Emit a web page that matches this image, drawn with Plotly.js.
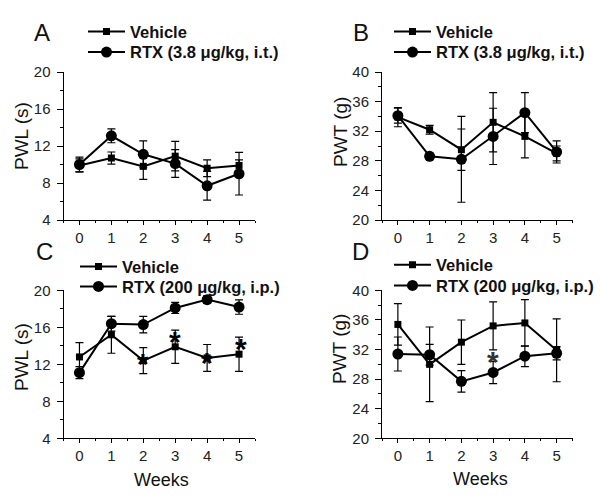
<!DOCTYPE html>
<html>
<head>
<meta charset="utf-8">
<script src="https://cdn.plot.ly/plotly-3.0.1.min.js"></script>
<style>html,body{margin:0;padding:0;background:#fff;}#chart{width:600px;height:499px;}</style>
</head>
<body>
<div id="chart"></div>
<script>
// ---- data ----
var weeks = [0, 1, 2, 3, 4, 5];
var weekTicks = ['0', '1', '2', '3', '4', '5'];

var seriesVehicle = 'Vehicle';
var seriesRtxIT = 'RTX (3.8 μg/kg, i.t.)';
var seriesRtxIP = 'RTX (200 μg/kg, i.p.)';

// Panel A: PWL (s), RTX i.t.
var aVehicle    = [9.9, 10.7, 9.8, 10.9, 9.6, 9.9];
var aVehicleErr = [0.7, 0.65, 1.4, 1.6, 0.9, 0.6];
var aRtx        = [10.0, 13.1, 11.1, 10.1, 7.7, 9.0];
var aRtxErr     = [0.8, 0.75, 1.45, 1.5, 1.55, 2.3];

// Panel B: PWT (g), RTX i.t.
var bVehicle    = [33.9, 32.2, 29.5, 33.2, 31.3, 29.0];
var bVehicleErr = [1.3, 0.6, 2.8, 4.0, 2.9, 1.0];
var bRtx        = [34.1, 28.6, 28.2, 31.3, 34.5, 29.2];
var bRtxErr     = [1.0, 0.4, 5.8, 3.8, 2.7, 1.5];

// Panel C: PWL (s), RTX i.p.
var cVehicle    = [12.8, 15.2, 12.4, 13.9, 12.7, 13.1];
var cVehicleErr = [1.55, 2.0, 1.4, 1.8, 1.45, 1.85];
var cRtx        = [11.1, 16.4, 16.3, 18.1, 19.0, 18.2];
var cRtxErr     = [0.65, 0.8, 0.9, 0.6, 0.4, 0.78];

// Panel D: PWT (g), RTX i.p.
var dVehicle    = [35.4, 30.0, 33.0, 35.2, 35.6, 31.9];
var dVehicleErr = [2.8, 5.05, 3.0, 3.25, 3.15, 4.25];
var dRtx        = [31.4, 31.3, 27.7, 28.9, 31.1, 31.5];
var dRtxErr     = [2.3, 1.4, 1.45, 1.5, 1.4, 0.9];

// significance marks (week, y value)
var cStarWeeks = [3, 5, 2, 4];
var cStarY     = [14.9, 14.1, 12.5, 12.65];
var dStarWeeks = [3];
var dStarY     = [30.9];

var panelLetters = ['A', 'B', 'C', 'D'];
var yTitles = ['PWL (s)', 'PWT (g)', 'PWL (s)', 'PWT (g)'];
var xTitle = 'Weeks';

// ---- build ----
var FONT = 'Liberation Sans, Arial, Helvetica, sans-serif';

function mk(y, err, name, symbol, size, ax, leg) {
  return {
    x: weeks, y: y, name: '<b>' + name + '</b>', type: 'scatter', mode: 'lines+markers',
    xaxis: 'x' + ax, yaxis: 'y' + ax, legend: leg,
    line: {color: 'black', width: 2},
    marker: {symbol: symbol, size: size, color: 'black'},
    error_y: {type: 'data', array: err, visible: true, color: 'black', thickness: 1.2, width: 4},
    cliponaxis: false
  };
}

var traces = [
  mk(aVehicle, aVehicleErr, seriesVehicle, 'square', 7, '', 'legend'),
  mk(aRtx, aRtxErr, seriesRtxIT, 'circle', 11, '', 'legend2'),
  mk(bVehicle, bVehicleErr, seriesVehicle, 'square', 7, '2', 'legend3'),
  mk(bRtx, bRtxErr, seriesRtxIT, 'circle', 11, '2', 'legend4'),
  mk(cVehicle, cVehicleErr, seriesVehicle, 'square', 7, '3', 'legend5'),
  mk(cRtx, cRtxErr, seriesRtxIP, 'circle', 11, '3', 'legend6'),
  mk(dVehicle, dVehicleErr, seriesVehicle, 'square', 7, '4', 'legend7'),
  mk(dRtx, dRtxErr, seriesRtxIP, 'circle', 11, '4', 'legend8')
];

var W = 600, H = 499;
var xLeft = [63.5 / W, 255 / W];
var xRight = [382 / W, 572.5 / W];
var yTop = [279 / H, 427 / H];
var yBot = [60.7 / H, 208.6 / H];

function xa(domain, anchor) {
  return {
    domain: domain, anchor: anchor, range: [-0.5, 5.5],
    tickvals: weeks, ticktext: weekTicks,
    ticks: 'outside', ticklen: 4, tickwidth: 1, tickcolor: 'black',
    minor: {dtick: 0.5, tick0: 0.5, ticks: 'outside', ticklen: 2, tickwidth: 1, tickcolor: 'black'},
    showline: true, linecolor: 'black', linewidth: 1,
    showgrid: false, zeroline: false, fixedrange: true,
    tickfont: {family: FONT, size: 15, color: '#222'},
    ticklabelstandoff: 0
  };
}
function ya(domain, anchor, range, dtick) {
  return {
    domain: domain, anchor: anchor, range: range, dtick: dtick, tick0: range[0],
    ticks: 'outside', ticklen: 6, tickwidth: 1, tickcolor: 'black',
    minor: {dtick: dtick / 2, ticks: 'outside', ticklen: 3, tickwidth: 1, tickcolor: 'black'},
    showline: true, linecolor: 'black', linewidth: 1,
    showgrid: false, zeroline: false, fixedrange: true,
    tickfont: {family: FONT, size: 15, color: '#222'},
    ticklabelstandoff: 3
  };
}
function leg(xpx, ypx) {
  return {
    x: xpx / W, xanchor: 'left', y: 1 - ypx / H, yanchor: 'middle',
    bgcolor: 'rgba(0,0,0,0)', borderwidth: 0, tracegroupgap: 0, itemwidth: 37,
    font: {family: FONT, size: 16.5, color: '#111'}
  };
}

var annotations = [];
function txt(x, y, text, size, extra) {
  var a = {xref: 'paper', yref: 'paper', x: x / W, y: 1 - y / H, text: text, showarrow: false,
    xanchor: 'center', yanchor: 'middle', font: {family: FONT, size: size, color: '#111'}};
  for (var k in extra) a[k] = extra[k];
  annotations.push(a);
}
// panel letters
txt(42, 33, panelLetters[0], 24);
txt(361, 33, panelLetters[1], 24);
txt(44, 252, panelLetters[2], 24);
txt(360, 252, panelLetters[3], 24);
// y titles
txt(21, 136, yTitles[0], 19, {textangle: -90});
txt(340, 132, yTitles[1], 19, {textangle: -90});
txt(21, 357, yTitles[2], 19, {textangle: -90});
txt(339, 349, yTitles[3], 19, {textangle: -90});
// x titles
txt(161, 480, xTitle, 18);
txt(480, 479, xTitle, 18);
// stars
for (var i = 0; i < cStarWeeks.length; i++) {
  annotations.push({xref: 'x3', yref: 'y3', x: cStarWeeks[i], y: cStarY[i], text: '<b>*</b>', showarrow: false,
    yshift: -4, xshift: (cStarWeeks[i] === 5 ? 2 : 0), font: {family: FONT, size: 30, color: 'black'}});
}
for (var j = 0; j < dStarWeeks.length; j++) {
  annotations.push({xref: 'x4', yref: 'y4', x: dStarWeeks[j], y: dStarY[j], text: '<b>*</b>', showarrow: false,
    yshift: -4, font: {family: FONT, size: 30, color: '#333'}});
}

var layout = {
  width: W, height: H, margin: {l: 0, r: 0, t: 0, b: 0},
  paper_bgcolor: 'white', plot_bgcolor: 'white',
  font: {family: FONT, color: '#111'},
  xaxis: xa(xLeft, 'y'), yaxis: ya(yTop, 'x', [4, 20], 4),
  xaxis2: xa(xRight, 'y2'), yaxis2: ya(yTop, 'x2', [20, 40], 4),
  xaxis3: xa(xLeft, 'y3'), yaxis3: ya(yBot, 'x3', [4, 20], 4),
  xaxis4: xa(xRight, 'y4'), yaxis4: ya(yBot, 'x4', [20, 40], 4),
  legend: leg(83, 31.7), legend2: leg(83, 52.3),
  legend3: leg(389, 31.7), legend4: leg(389, 52.3),
  legend5: leg(75, 266.7), legend6: leg(75, 286.7),
  legend7: leg(389, 265), legend8: leg(389, 285.7),
  annotations: annotations,
  showlegend: true
};

Plotly.newPlot('chart', traces, layout, {displayModeBar: false, staticPlot: true});
</script>
</body>
</html>
